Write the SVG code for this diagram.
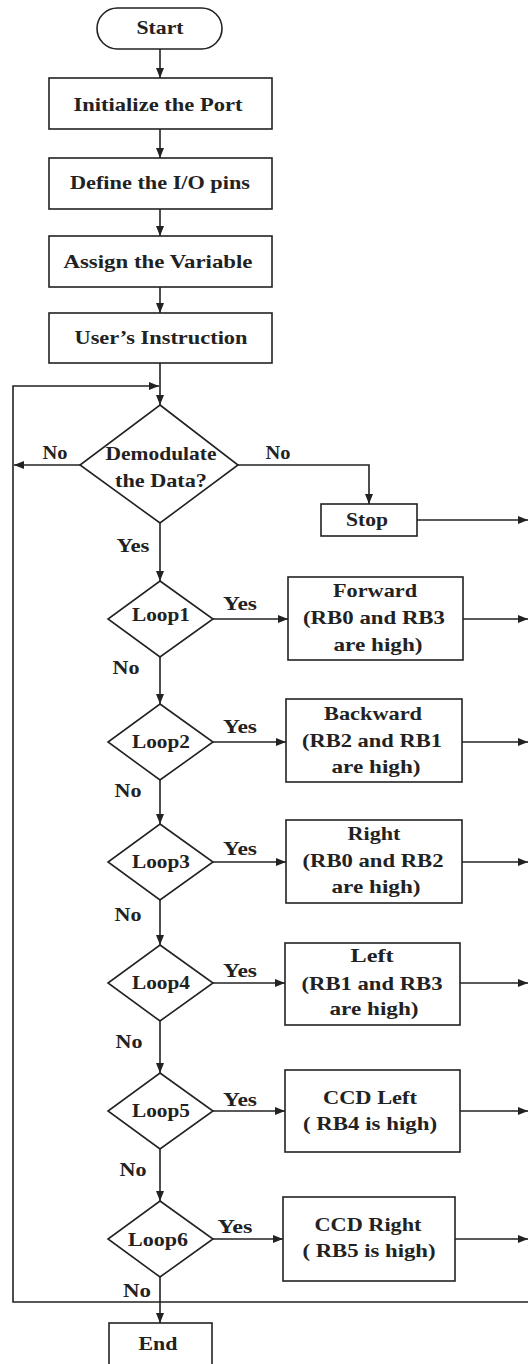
<svg xmlns="http://www.w3.org/2000/svg" width="528" height="1364" viewBox="0 0 528 1364">
<style>
.n{fill:#fff;stroke:#222;stroke-width:1.6}
.c{fill:none;stroke:#222;stroke-width:1.6}
text{font-family:"Liberation Serif","Times New Roman",serif;font-weight:bold;font-size:19px;fill:#222;text-anchor:middle}
</style>
<defs>
<marker id="ah" markerUnits="userSpaceOnUse" markerWidth="10" markerHeight="8" refX="10" refY="4" orient="auto">
<path d="M0,0 L10,4 L0,8 z" fill="#222"/>
</marker>
</defs>
<rect width="528" height="1364" fill="#fff"/>
<g id="connectors">
<path class="c" d="M160,49 V78" marker-end="url(#ah)"/>
<path class="c" d="M160,129 V158" marker-end="url(#ah)"/>
<path class="c" d="M160,209 V236" marker-end="url(#ah)"/>
<path class="c" d="M160,287 V313" marker-end="url(#ah)"/>
<path class="c" d="M160,363 V405" marker-end="url(#ah)"/>
<path class="c" d="M528,1302 H13 V386 H159" marker-end="url(#ah)"/>
<path class="c" d="M80,465 H14" marker-end="url(#ah)"/>
<path class="c" d="M238,465 H369 V504" marker-end="url(#ah)"/>
<path class="c" d="M417,520 H528" marker-end="url(#ah)"/>
<path class="c" d="M160,523 V581" marker-end="url(#ah)"/>
<path class="c" d="M213,619 H288" marker-end="url(#ah)"/>
<path class="c" d="M463,619 H528" marker-end="url(#ah)"/>
<path class="c" d="M160,657 V704" marker-end="url(#ah)"/>
<path class="c" d="M213,742 H286" marker-end="url(#ah)"/>
<path class="c" d="M462,742 H528" marker-end="url(#ah)"/>
<path class="c" d="M160,780 V824" marker-end="url(#ah)"/>
<path class="c" d="M213,862 H286" marker-end="url(#ah)"/>
<path class="c" d="M462,862 H528" marker-end="url(#ah)"/>
<path class="c" d="M160,900 V945" marker-end="url(#ah)"/>
<path class="c" d="M213,983 H285" marker-end="url(#ah)"/>
<path class="c" d="M460,983 H528" marker-end="url(#ah)"/>
<path class="c" d="M160,1021 V1073" marker-end="url(#ah)"/>
<path class="c" d="M213,1111 H285" marker-end="url(#ah)"/>
<path class="c" d="M460,1111 H528" marker-end="url(#ah)"/>
<path class="c" d="M160,1149 V1201" marker-end="url(#ah)"/>
<path class="c" d="M213,1239 H283" marker-end="url(#ah)"/>
<path class="c" d="M455,1239 H528" marker-end="url(#ah)"/>
<path class="c" d="M160,1277 V1323" marker-end="url(#ah)"/>
</g>
<g id="labels">
<text x="55" y="459" textLength="25" lengthAdjust="spacingAndGlyphs">No</text>
<text x="278" y="459" textLength="25" lengthAdjust="spacingAndGlyphs">No</text>
<text x="133" y="552" textLength="33" lengthAdjust="spacingAndGlyphs">Yes</text>
<text x="240" y="610" textLength="34" lengthAdjust="spacingAndGlyphs">Yes</text>
<text x="126" y="674" textLength="27" lengthAdjust="spacingAndGlyphs">No</text>
<text x="240" y="733" textLength="34" lengthAdjust="spacingAndGlyphs">Yes</text>
<text x="128" y="797" textLength="27" lengthAdjust="spacingAndGlyphs">No</text>
<text x="240" y="855" textLength="34" lengthAdjust="spacingAndGlyphs">Yes</text>
<text x="128" y="921" textLength="27" lengthAdjust="spacingAndGlyphs">No</text>
<text x="240" y="977" textLength="34" lengthAdjust="spacingAndGlyphs">Yes</text>
<text x="129" y="1048" textLength="27" lengthAdjust="spacingAndGlyphs">No</text>
<text x="240" y="1106" textLength="34" lengthAdjust="spacingAndGlyphs">Yes</text>
<text x="133" y="1176" textLength="27" lengthAdjust="spacingAndGlyphs">No</text>
<text x="235" y="1233" textLength="35" lengthAdjust="spacingAndGlyphs">Yes</text>
<text x="137" y="1297" textLength="28" lengthAdjust="spacingAndGlyphs">No</text>
</g>
<g id="start"><rect class="n" x="97" y="8" width="125" height="41" rx="20.5"/><text x="160" y="34" textLength="47" lengthAdjust="spacingAndGlyphs">Start</text></g>
<g id="init"><rect class="n" x="49" y="78" width="223" height="51"/><text x="158" y="111" textLength="169" lengthAdjust="spacingAndGlyphs">Initialize the Port</text></g>
<g id="define"><rect class="n" x="49" y="158" width="223" height="51"/><text x="160" y="189" textLength="180" lengthAdjust="spacingAndGlyphs">Define the I/O pins</text></g>
<g id="assign"><rect class="n" x="49" y="236" width="223" height="51"/><text x="158" y="268" textLength="189" lengthAdjust="spacingAndGlyphs">Assign the Variable</text></g>
<g id="user"><rect class="n" x="49" y="313" width="223" height="50"/><text x="161" y="344" textLength="173" lengthAdjust="spacingAndGlyphs">User’s Instruction</text></g>
<g id="demod"><polygon class="n" points="160,405 238,465 160,523 80,465"/><text x="161" y="460" textLength="111" lengthAdjust="spacingAndGlyphs">Demodulate</text><text x="161" y="487" textLength="92" lengthAdjust="spacingAndGlyphs">the Data?</text></g>
<g id="stop"><rect class="n" x="321" y="504" width="96" height="32"/><text x="367" y="526" textLength="42" lengthAdjust="spacingAndGlyphs">Stop</text></g>
<g id="loop1"><polygon class="n" points="160,581 213,619 160,657 108,619"/><text x="161" y="621" textLength="58" lengthAdjust="spacingAndGlyphs">Loop1</text></g>
<g id="forward"><rect class="n" x="288" y="577" width="175" height="83"/><text x="375" y="597" textLength="84" lengthAdjust="spacingAndGlyphs">Forward</text><text x="374" y="624" textLength="142" lengthAdjust="spacingAndGlyphs">(RB0 and RB3</text><text x="378" y="651" textLength="89" lengthAdjust="spacingAndGlyphs">are high)</text></g>
<g id="loop2"><polygon class="n" points="160,704 213,742 160,780 108,742"/><text x="161" y="748" textLength="58" lengthAdjust="spacingAndGlyphs">Loop2</text></g>
<g id="backward"><rect class="n" x="286" y="699" width="176" height="83"/><text x="373" y="720" textLength="98" lengthAdjust="spacingAndGlyphs">Backward</text><text x="372" y="747" textLength="140" lengthAdjust="spacingAndGlyphs">(RB2 and RB1</text><text x="376" y="773" textLength="89" lengthAdjust="spacingAndGlyphs">are high)</text></g>
<g id="loop3"><polygon class="n" points="160,824 213,862 160,900 108,862"/><text x="161" y="868" textLength="58" lengthAdjust="spacingAndGlyphs">Loop3</text></g>
<g id="right"><rect class="n" x="286" y="820" width="176" height="83"/><text x="374" y="840" textLength="53" lengthAdjust="spacingAndGlyphs">Right</text><text x="373" y="867" textLength="141" lengthAdjust="spacingAndGlyphs">(RB0 and RB2</text><text x="376" y="893" textLength="89" lengthAdjust="spacingAndGlyphs">are high)</text></g>
<g id="loop4"><polygon class="n" points="160,945 213,983 160,1021 108,983"/><text x="161" y="989" textLength="58" lengthAdjust="spacingAndGlyphs">Loop4</text></g>
<g id="left"><rect class="n" x="285" y="943" width="175" height="82"/><text x="372" y="962" textLength="43" lengthAdjust="spacingAndGlyphs">Left</text><text x="372" y="990" textLength="141" lengthAdjust="spacingAndGlyphs">(RB1 and RB3</text><text x="374" y="1015" textLength="89" lengthAdjust="spacingAndGlyphs">are high)</text></g>
<g id="loop5"><polygon class="n" points="160,1073 213,1111 160,1149 108,1111"/><text x="161" y="1117" textLength="58" lengthAdjust="spacingAndGlyphs">Loop5</text></g>
<g id="ccdleft"><rect class="n" x="285" y="1070" width="175" height="82"/><text x="370" y="1104" textLength="94" lengthAdjust="spacingAndGlyphs">CCD Left</text><text x="370" y="1130" textLength="134" lengthAdjust="spacingAndGlyphs">( RB4 is high)</text></g>
<g id="loop6"><polygon class="n" points="160,1201 213,1239 160,1277 108,1239"/><text x="158" y="1246" textLength="60" lengthAdjust="spacingAndGlyphs">Loop6</text></g>
<g id="ccdright"><rect class="n" x="283" y="1197" width="172" height="84"/><text x="368" y="1231" textLength="107" lengthAdjust="spacingAndGlyphs">CCD Right</text><text x="369" y="1257" textLength="133" lengthAdjust="spacingAndGlyphs">( RB5 is high)</text></g>
<g id="end"><rect class="n" x="109" y="1323" width="103" height="50"/><text x="158" y="1350" textLength="39" lengthAdjust="spacingAndGlyphs">End</text></g>
</svg>
